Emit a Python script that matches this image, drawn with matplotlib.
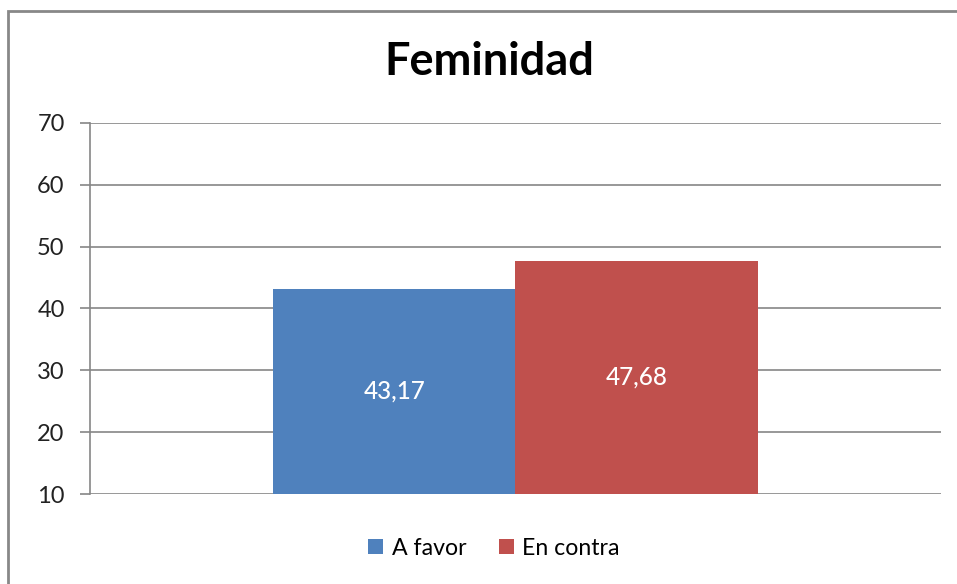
import matplotlib.pyplot as plt
from matplotlib.patches import Rectangle

plt.rcParams['font.family'] = ['Lato', 'DejaVu Sans']

series = ['A favor', 'En contra']
values = [43.17, 47.68]
labels = ['43,17', '47,68']
colors = ['#4F81BD', '#C0504D']
yticks = [10, 20, 30, 40, 50, 60, 70]

fig = plt.figure(figsize=(9.57, 5.84), dpi=100)
ax = fig.add_axes([0.094, 0.1541, 0.8893, 0.6353])

bar_w = 0.2844
base = 10
for i, (name, v, lab, c) in enumerate(zip(series, values, labels, colors)):
    x = (i - 0.5) * bar_w
    ax.bar(x, v - base, bottom=base, width=bar_w, color=c, label=name, zorder=3)
    ax.text(x, base + (v - base) / 2, lab, color='white', fontsize=17.5,
            fontweight='medium', ha='center', va='center', zorder=4)

ax.set_xlim(-0.5, 0.5)
ax.set_ylim(10, 70)
ax.set_yticks(yticks)
ax.set_xticks([])
ax.grid(axis='y', color='#868686', linewidth=1.2, zorder=0)
for s in ['top', 'right', 'bottom']:
    ax.spines[s].set_visible(False)
ax.spines['left'].set_color('#868686')
ax.spines['left'].set_linewidth(1.2)
ax.tick_params(axis='y', length=7.2, width=1.2, color='#868686',
               labelsize=17, pad=11, labelcolor='#222222')

fig.text(0.511, 0.893, 'Feminidad', fontsize=32.5, fontweight='bold',
         ha='center', va='center')

leg = fig.legend(loc='center', bbox_to_anchor=(0.516, 0.0616), ncol=2,
                 frameon=False, fontsize=16.7, handlelength=0.65, handleheight=0.65,
                 handletextpad=0.35, columnspacing=1.4)

fig.patches.append(Rectangle((8 / 957, -0.2), 1.2, 1.2 - 11 / 584, transform=fig.transFigure,
                             fill=False, edgecolor='#888888', linewidth=2))

fig.savefig('out.png', dpi=100)
